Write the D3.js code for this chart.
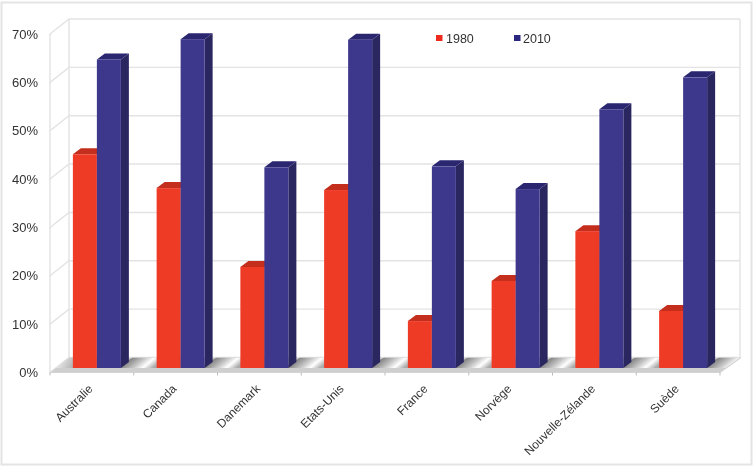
<!DOCTYPE html>
<html><head><meta charset="utf-8">
<script src="https://cdnjs.cloudflare.com/ajax/libs/d3/7.8.5/d3.min.js"></script>
<style>html,body{margin:0;padding:0;background:#fff}svg{display:block}text{font-family:"Liberation Sans",Arial,sans-serif;fill:#333}</style>
</head><body><svg id="c" width="754" height="467"></svg>
<script>
const categories=["Australie","Canada","Danemark","Etats-Unis","France","Norvège","Nouvelle-Zélande","Suède"];
const seriesNames=["1980","2010"];
const values1980=[44.2,37.2,20.9,36.8,9.7,18.0,28.3,11.8];
const values2010=[63.8,68.0,41.5,67.9,41.7,37.0,53.5,60.1];
const yTicks=[0,10,20,30,40,50,60,70];
const colors={"1980":{front:"#ee3a28",side:"#b52a1a",top:"#c42e1e"},"2010":{front:"#3d378c",side:"#2a2660",top:"#2a2570"}};

const svg=d3.select("#c");
const defs=svg.append("defs");
defs.append("filter").attr("id","soft").attr("x","-5%").attr("y","-5%").attr("width","110%").attr("height","110%")
  .append("feGaussianBlur").attr("stdDeviation",0.55);

const root=svg.append("g").attr("filter","url(#soft)");
root.append("rect").attr("x",1.5).attr("y",2.5).attr("width",750).attr("height",462).attr("fill","#fff").attr("stroke","#e4e4e4").attr("stroke-width",2);

const x=d3.scaleBand().domain(categories).range([50,720]);
const y=d3.scaleLinear().domain([0,70]).range([372.5,34]);
const wallDx=19,wallDy=-15;
const grid="#e3e3e3";

// walls and gridlines
const walls=root.append("g").attr("fill","none").attr("stroke",grid).attr("stroke-width",1.4);
walls.selectAll(".back").data(yTicks).join("path")
  .attr("d",d=>`M${50},${y(d)}L${50+wallDx},${y(d)+wallDy}L${720+wallDx+1},${y(d)+wallDy}`);
walls.append("path").attr("d",`M50,${y(0)}V${y(70)}`);
walls.append("path").attr("d",`M${50+wallDx},${y(0)+wallDy}V${y(70)+wallDy}`);
walls.append("path").attr("d",`M${721+wallDx},${y(0)+wallDy}V${y(70)+wallDy}`);

const barOffX=5,barOffY=-4.5,depthX=8,depthY=-6;
const bw=24;
const groupLeft=c=>x(c)+x.bandwidth()/2+barOffX-bw;

// floor: a parallelogram with a shaded gradient in each gap between bar groups
const floorY=y(0), backY=y(0)+wallDy;
const floorPts=`M50,${floorY}L69,${backY}L741,${backY}L720,${floorY}Z`;
defs.append("clipPath").attr("id","floorClip").append("path").attr("d",floorPts);
const floor=root.append("g").attr("clip-path","url(#floorClip)");
floor.append("path").attr("d",floorPts).attr("fill","#cfcfcf");
const gapEdges=categories.map(c=>groupLeft(c)+bw*2);
gapEdges.forEach((r,i)=>{
  const next=i<categories.length-1?groupLeft(categories[i+1]):r+34;
  const gr=defs.append("linearGradient").attr("id","gap"+i).attr("gradientUnits","userSpaceOnUse")
    .attr("x1",r+4).attr("y1",floorY-10).attr("x2",r+18).attr("y2",floorY+7);
  [[0,"#7c7c7c"],[0.42,"#c6c6c6"],[0.7,"#ffffff"],[1,"#aaaaaa"]].forEach(([o,c])=>gr.append("stop").attr("offset",o).attr("stop-color",c));
  floor.append("path").attr("fill",`url(#gap${i})`)
    .attr("d",`M${r-6},${floorY-4.5}L${r+12},${backY}H${next+16}L${next},${floorY-4.5}Z`);
});
const g0=defs.append("linearGradient").attr("id","gapL").attr("gradientUnits","userSpaceOnUse")
  .attr("x1",58).attr("y1",358).attr("x2",75).attr("y2",368);
g0.append("stop").attr("offset",0).attr("stop-color","#f4f4f4");
g0.append("stop").attr("offset",1).attr("stop-color","#a9a9a9");
floor.append("path").attr("fill","url(#gapL)").attr("d",`M55,${floorY-4.5}L69,${backY}H85V${floorY-4.5}Z`);
root.append("path").attr("stroke","#d4d4d4").attr("stroke-width",1.2).attr("fill","none").attr("d",`M50,${floorY}H720L741,${backY}`);

// bars
const barH=d=>y(0)-y(d);
const cats=root.append("g").selectAll("g").data(categories).join("g");
cats.each(function(c,i){
  const g=d3.select(this);
  [["1980",values1980[i],0],["2010",values2010[i],1]].forEach(([s,v,k])=>{
    const xl=groupLeft(c)+k*bw, xr=xl+bw, yb=y(0)+barOffY, yt=yb-barH(v), col=colors[s];
    g.append("path").attr("fill",col.side).attr("d",`M${xr},${yt}L${xr+depthX},${yt+depthY}V${yb+depthY}L${xr},${yb}Z`);
    g.append("path").attr("fill",col.top).attr("d",`M${xl},${yt}L${xl+depthX},${yt+depthY}H${xr+depthX}L${xr},${yt}Z`);
    g.append("rect").attr("x",xl).attr("y",yt).attr("width",bw).attr("height",yb-yt).attr("fill",col.front);
  });
});

// axes
const yAxis=d3.axisLeft(y).tickValues(yTicks).tickFormat(d=>d+"%").tickSize(4).tickPadding(7);
const ya=root.append("g").attr("transform","translate(50,0)").call(yAxis);
ya.select(".domain").remove();
ya.selectAll("line").attr("stroke",grid).attr("stroke-width",1.4).attr("x1",-1).attr("x2",0);
ya.selectAll("text").style("font-size","13px").attr("x",-12);

const xAxis=d3.axisBottom(x).tickSize(3).tickPadding(6).tickFormat(d=>d);
const xa=root.append("g").attr("transform",`translate(0,${y(0)})`).call(xAxis);
xa.select(".domain").remove();
xa.selectAll(".tick").each(function(d,i){
  d3.select(this).attr("transform",`translate(${x(d)},0)`);
  d3.select(this).select("line").attr("stroke","#bbb");
  d3.select(this).select("text").attr("x",0).attr("y",0).attr("dy",0)
    .attr("text-anchor","end").attr("transform",`translate(${x.bandwidth()/2+1.5},17) rotate(-45)`)
    .style("font-size","12px");
});
xa.append("line").attr("x1",720).attr("x2",720).attr("y1",0).attr("y2",3).attr("stroke","#bbb");

// legend
const lx=d3.scaleOrdinal().domain(seriesNames).range([436,514]);
const lg=root.append("g").selectAll("g").data(seriesNames).join("g").attr("transform",d=>`translate(${lx(d)},35)`);
lg.append("rect").attr("width",6.5).attr("height",6).attr("fill",d=>d==="1980"?"#ee2a1c":"#2b2880");
lg.append("text").attr("x",d=>d==="1980"?10:9).attr("y",8).style("font-size","12.5px").text(d=>d);
</script></body></html>
